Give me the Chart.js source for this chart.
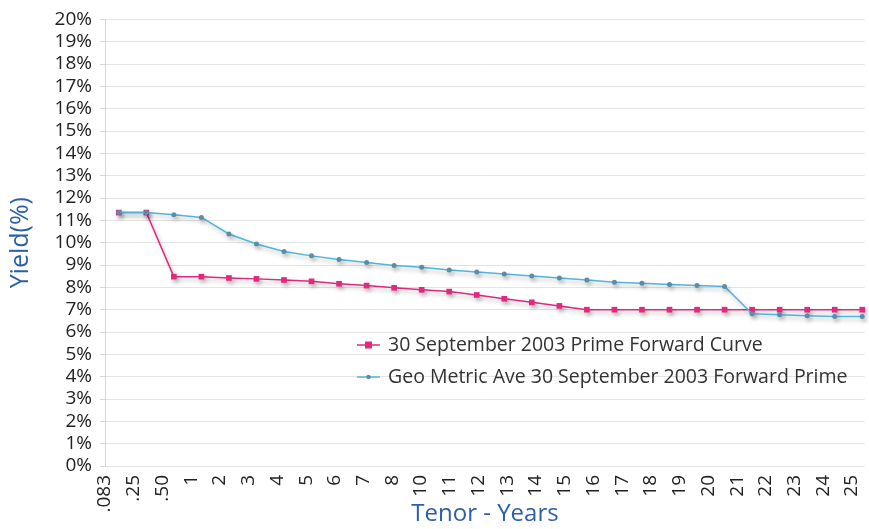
<!DOCTYPE html>
<html>
<head>
<meta charset="utf-8">
<script src="https://cdn.jsdelivr.net/npm/chart.js@4"></script>
<style>
  body { margin: 0; background: #fff; }
  canvas { display: block; }
</style>
</head>
<body>
<canvas id="yieldChart" width="869" height="529"></canvas>
<script>
// tenors of the plotted points (28 points on the curve)
const pointTenors = [".083", ".25", ".50", "1", "2", "3", "4", "5", "6", "7", "8", "9", "10",
    "11", "12", "13", "14", "15", "16", "17", "18", "19", "20", "21", "22", "23", "24", "25"];
// labels as printed under the axis (the original skips 9)
const tenorLabels = [".083", ".25", ".50", "1", "2", "3", "4", "5", "6", "7", "8", "10",
    "11", "12", "13", "14", "15", "16", "17", "18", "19", "20", "21", "22", "23", "24", "25"];
const yieldTicks = [0, 1, 2, 3, 4, 5, 6, 7, 8, 9, 10, 11, 12, 13, 14, 15, 16, 17, 18, 19, 20];

const primeForward = [11.35, 11.35, 8.48, 8.48, 8.42, 8.38, 8.33, 8.27, 8.16, 8.08, 7.98, 7.89, 7.81,
    7.66, 7.49, 7.33, 7.17, 7.0, 7.0, 7.0, 7.0, 7.0, 7.0, 7.0, 7.0, 7.0, 7.0, 7.0];
const geoMetricAve = [11.35, 11.35, 11.25, 11.13, 10.39, 9.94, 9.61, 9.41, 9.25, 9.11, 8.98, 8.90, 8.78,
    8.69, 8.60, 8.51, 8.42, 8.33, 8.23, 8.18, 8.13, 8.08, 8.04, 6.82, 6.77, 6.73, 6.70, 6.70];

const seriesNames = ["30 September 2003 Prime Forward Curve", "Geo Metric Ave 30 September 2003 Forward Prime"];

const FONT = "'Open Sans', 'Noto Sans', sans-serif";
const PINK = "#e2297f";
const CYAN = "#52b5da";
const TITLE_BLUE = "#2d5fa9";

// soft drop shadow under the lines, like the original
const shadowPlugin = {
    id: "shadow",
    beforeDatasetDraw(chart) {
        const ctx = chart.ctx;
        ctx.save();
        ctx.shadowColor = "rgba(0,0,0,0.28)";
        ctx.shadowBlur = 4;
        ctx.shadowOffsetX = 2;
        ctx.shadowOffsetY = 3;
    },
    afterDatasetDraw(chart) {
        chart.ctx.restore();
    },
};

// legend drawn inside the plot area
const innerLegend = {
    id: "innerLegend",
    afterDraw(chart) {
        const ctx = chart.ctx;
        const x0 = 357;
        const rows = [345, 377];
        ctx.save();
        chart.data.datasets.forEach((ds, i) => {
            const y = rows[i];
            ctx.strokeStyle = ds.borderColor;
            ctx.lineWidth = 1.5;
            ctx.beginPath();
            ctx.moveTo(x0, y);
            ctx.lineTo(x0 + 23, y);
            ctx.stroke();
            ctx.fillStyle = ds.pointBackgroundColor;
            if (ds.pointStyle === "rect") {
                ctx.fillRect(x0 + 8, y - 3.5, 7, 7);
            } else {
                ctx.beginPath();
                ctx.arc(x0 + 11.5, y, 2.2, 0, Math.PI * 2);
                ctx.fill();
            }
            ctx.fillStyle = "#333";
            ctx.font = "19.5px " + FONT;
            ctx.textBaseline = "middle";
            ctx.fillText(ds.label, x0 + 31, y);
        });
        ctx.restore();
    },
};

const ctx = document.getElementById("yieldChart").getContext("2d");
new Chart(ctx, {
    type: "line",
    data: {
        datasets: [
            {
                label: seriesNames[0],
                data: primeForward.map((v, i) => ({ x: i, y: v })),
                borderColor: PINK,
                borderWidth: 1.5,
                pointStyle: "rect",
                pointRadius: 4,
                pointBackgroundColor: PINK,
                pointBorderColor: PINK,
                pointBorderWidth: 0,
                tension: 0,
                clip: false,
                order: 2,
            },
            {
                label: seriesNames[1],
                data: geoMetricAve.map((v, i) => ({ x: i, y: v })),
                borderColor: CYAN,
                borderWidth: 1.5,
                pointStyle: "circle",
                pointRadius: 2.5,
                pointBackgroundColor: "#5b8ea6",
                pointBorderColor: "#5b8ea6",
                pointBorderWidth: 0,
                tension: 0,
                clip: false,
                order: 1,
            },
        ],
    },
    options: {
        responsive: false,
        animation: false,
        layout: { padding: { top: 18, right: 1, left: 0, bottom: 0 } },
        plugins: {
            legend: { display: false },
            tooltip: { enabled: false },
        },
        scales: {
            // data axis: one slot per plotted point
            x: {
                type: "linear",
                display: false,
                min: -0.5,
                max: 27.1,
            },
            // label axis: the printed tenor labels
            xl: {
                type: "linear",
                position: "bottom",
                min: 0,
                max: 26.45,
                afterBuildTicks: (scale) => {
                    scale.ticks = tenorLabels.map((_, i) => ({ value: i }));
                },
                afterFit: (scale) => {
                    scale.height = 63;
                    scale.paddingLeft = 0;
                    scale.paddingRight = 0;
                },
                grid: { display: false, drawTicks: false },
                border: { display: false },
                ticks: {
                    autoSkip: false,
                    maxRotation: 90,
                    minRotation: 90,
                    padding: 9,
                    color: "#222",
                    font: { family: FONT, size: 19 },
                    callback: (v) => tenorLabels[v],
                },
                title: {
                    display: true,
                    text: "Tenor - Years",
                    color: TITLE_BLUE,
                    font: { family: FONT, size: 24 },
                    padding: { top: 0, bottom: 0 },
                },
            },
            y: {
                min: yieldTicks[0],
                max: yieldTicks[yieldTicks.length - 1],
                afterBuildTicks: (scale) => {
                    scale.ticks = yieldTicks.map((v) => ({ value: v }));
                },
                afterFit: (scale) => { scale.width = 105; },
                grid: { color: "#e4e4e4", tickLength: 5, tickColor: "#d6d3dc" },
                border: { color: "#d6d3dc" },
                ticks: {
                    autoSkip: false,
                    padding: 8,
                    color: "#222",
                    font: { family: FONT, size: 19 },
                    callback: (v) => v + "%",
                },
                title: {
                    display: true,
                    text: "Yield(%)",
                    color: TITLE_BLUE,
                    font: { family: FONT, size: 25 },
                    padding: { top: 6, bottom: 4 },
                },
            },
        },
    },
    plugins: [shadowPlugin, innerLegend],
});
</script>
</body>
</html>
